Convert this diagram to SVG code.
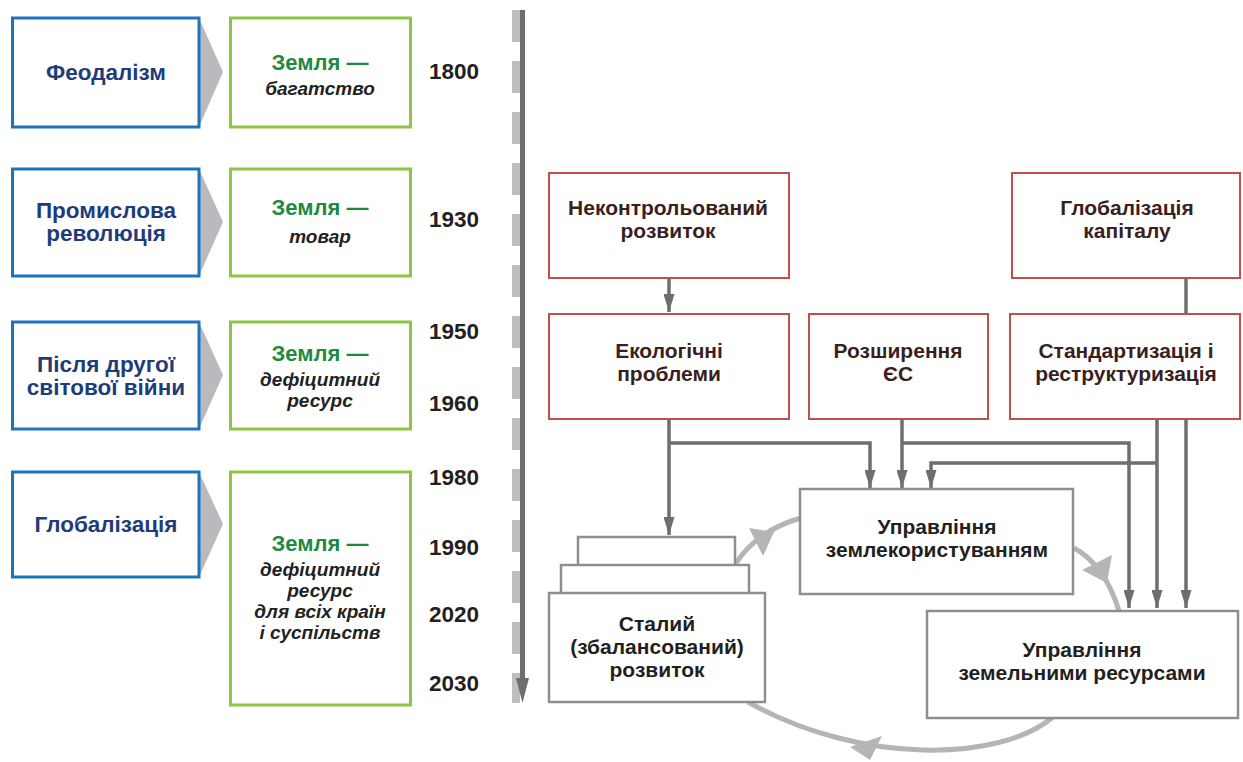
<svg xmlns="http://www.w3.org/2000/svg" width="1243" height="762" viewBox="0 0 1243 762">
<style>
text{font-family:"Liberation Sans",Arial,sans-serif;font-weight:bold;text-anchor:middle}
.blue{fill:#fff;stroke:#1b75bc;stroke-width:3}
.green{fill:#fff;stroke:#8dc63f;stroke-width:3}
.red{fill:#fff;stroke:#c0504d;stroke-width:2}
.grey{fill:#fff;stroke:#8e8e90;stroke-width:2.5}
.chev{fill:#b9babd}
.tb{fill:#1f3c7a;font-size:22.5px}
.tg{fill:#1e8a3e;font-size:22px}
.ti{fill:#222;font-size:19px;font-style:italic}
.ty{fill:#231f20;font-size:22.5px}
.tr{fill:#3a1f1f;font-size:21px}
.tk{fill:#231f20;font-size:21px}
.con{fill:none;stroke:#6d6e70;stroke-width:3.5;marker-end:url(#ah)}
.conn{fill:none;stroke:#6d6e70;stroke-width:3.5}
.arc{fill:none;stroke:#b4b5b7;stroke-width:5}
.arch{fill:#b4b5b7}
</style>
<defs>
<marker id="ah" markerUnits="userSpaceOnUse" markerWidth="18" markerHeight="11" refX="18" refY="5.5" orient="auto">
<path d="M0,0 L18,5.5 L0,11 z" fill="#6d6e70"/>
</marker>
</defs>

<g id="timeline">
<line x1="516" y1="10" x2="516" y2="703" stroke="#bcbec0" stroke-width="8" stroke-dasharray="32 19"/>
<line x1="522.5" y1="10" x2="522.5" y2="682" stroke="#6d6e70" stroke-width="5"/>
<polygon points="516,678 529,678 522.5,703" fill="#6d6e70"/>
</g>

<g id="years">
<text class="ty" x="454" y="79">1800</text>
<text class="ty" x="454" y="227">1930</text>
<text class="ty" x="454" y="339">1950</text>
<text class="ty" x="454" y="411">1960</text>
<text class="ty" x="454" y="485">1980</text>
<text class="ty" x="454" y="555">1990</text>
<text class="ty" x="454" y="622">2020</text>
<text class="ty" x="454" y="691">2030</text>
</g>

<g id="chevrons">
<polygon class="chev" points="199,18 223,72 199,127"/>
<polygon class="chev" points="199,169 223,222 199,276"/>
<polygon class="chev" points="199,322 223,375 199,429"/>
<polygon class="chev" points="199,472 223,524 199,577"/>
</g>

<g id="feudalism">
<rect class="blue" x="12.5" y="18" width="186.5" height="109"/>
<text class="tb" x="106" y="80">Феодалізм</text>
</g>
<g id="industrial">
<rect class="blue" x="12.5" y="169" width="186.5" height="107"/>
<text class="tb" x="106" y="218">Промислова</text>
<text class="tb" x="106" y="241">революція</text>
</g>
<g id="postwar">
<rect class="blue" x="12.5" y="322" width="186.5" height="107"/>
<text class="tb" x="106" y="372">Після другої</text>
<text class="tb" x="106" y="395">світової війни</text>
</g>
<g id="globalization">
<rect class="blue" x="12.5" y="472" width="186.5" height="105"/>
<text class="tb" x="106" y="532">Глобалізація</text>
</g>

<g id="land-wealth">
<rect class="green" x="230.5" y="18" width="180" height="109"/>
<text class="tg" x="320" y="70">Земля —</text>
<text class="ti" x="320" y="95">багатство</text>
</g>
<g id="land-commodity">
<rect class="green" x="230.5" y="169" width="180" height="107"/>
<text class="tg" x="320" y="215">Земля —</text>
<text class="ti" x="320" y="243">товар</text>
</g>
<g id="land-scarce">
<rect class="green" x="230.5" y="322" width="180" height="107"/>
<text class="tg" x="320" y="361">Земля —</text>
<text class="ti" x="320" y="386">дефіцитний</text>
<text class="ti" x="320" y="407">ресурс</text>
</g>
<g id="land-scarce-all">
<rect class="green" x="230.5" y="472" width="180" height="233"/>
<text class="tg" x="320" y="551">Земля —</text>
<text class="ti" x="320" y="576">дефіцитний</text>
<text class="ti" x="320" y="597">ресурс</text>
<text class="ti" x="320" y="618">для всіх країн</text>
<text class="ti" x="320" y="639">і суспільств</text>
</g>

<g id="connectors">
<line class="con" x1="669" y1="278" x2="669" y2="312"/>
<line class="conn" x1="1186" y1="278" x2="1186" y2="314"/>
<line class="con" x1="669" y1="419" x2="669" y2="535"/>
<polyline class="con" points="669,443 870,443 870,488"/>
<line class="con" x1="902" y1="419" x2="902" y2="488"/>
<polyline class="con" points="902,443 1129,443 1129,608"/>
<line class="con" x1="1157" y1="419" x2="1157" y2="608"/>
<polyline class="con" points="1157,463 931,463 931,488"/>
<line class="con" x1="1186" y1="419" x2="1186" y2="608"/>
<path class="arc" d="M736,563 Q758,530 801,518"/>
<polygon class="arch" points="774,532 749,528 763,556"/>
<path class="arc" d="M1074,548 Q1105,565 1119,611"/>
<polygon class="arch" points="1107,583 1082,570 1112,555"/>
<path class="arc" d="M1053,717 C1000,762 860,765 748,702"/>
<polygon class="arch" points="850,747 882,736 870,760"/>
</g>

<g id="uncontrolled">
<rect class="red" x="549" y="173" width="240" height="105"/>
<text class="tr" x="668" y="215">Неконтрольований</text>
<text class="tr" x="668" y="238">розвиток</text>
</g>
<g id="capital">
<rect class="red" x="1012" y="173" width="228" height="105"/>
<text class="tr" x="1127" y="215">Глобалізація</text>
<text class="tr" x="1127" y="238">капіталу</text>
</g>
<g id="ecology">
<rect class="red" x="549" y="314" width="240" height="105"/>
<text class="tr" x="669" y="358">Екологічні</text>
<text class="tr" x="669" y="381">проблеми</text>
</g>
<g id="eu">
<rect class="red" x="809" y="314" width="179" height="105"/>
<text class="tr" x="898" y="358">Розширення</text>
<text class="tr" x="898" y="381">ЄС</text>
</g>
<g id="standard">
<rect class="red" x="1010" y="314" width="230" height="105"/>
<text class="tr" x="1126" y="358">Стандартизація і</text>
<text class="tr" x="1126" y="381">реструктуризація</text>
</g>

<g id="sustainable">
<rect class="grey" x="578" y="537" width="157" height="30"/>
<rect class="grey" x="561" y="565" width="188" height="30"/>
<rect class="grey" x="549" y="593" width="216" height="109"/>
<text class="tk" x="657" y="631">Сталий</text>
<text class="tk" x="657" y="654">(збалансований)</text>
<text class="tk" x="657" y="677">розвиток</text>
</g>
<g id="land-use">
<rect class="grey" x="800" y="489" width="273" height="105"/>
<text class="tk" x="937" y="534">Управління</text>
<text class="tk" x="937" y="557">землекористуванням</text>
</g>
<g id="land-resources">
<rect class="grey" x="927" y="611" width="311" height="107"/>
<text class="tk" x="1082" y="657">Управління</text>
<text class="tk" x="1082" y="680">земельними ресурсами</text>
</g>
</svg>
